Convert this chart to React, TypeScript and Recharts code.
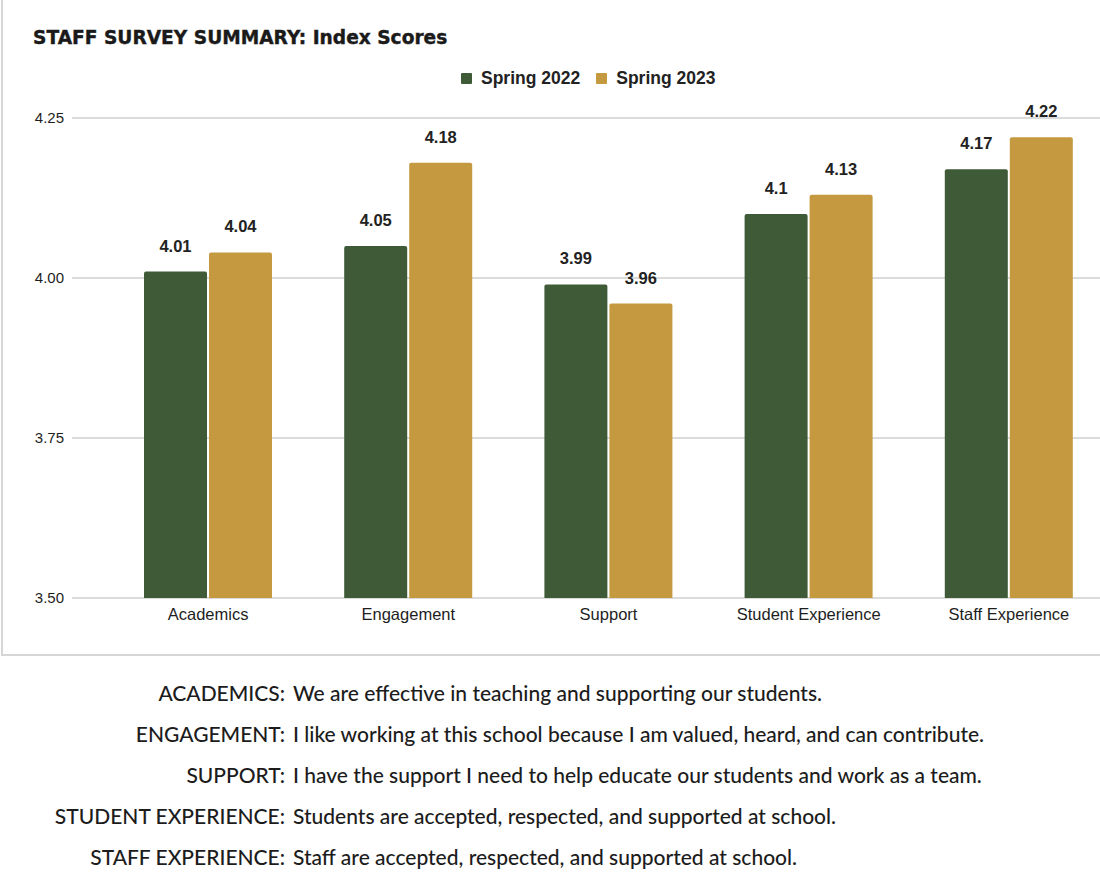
import React from 'react';
import { BarChart, Bar, XAxis, YAxis, CartesianGrid, LabelList } from 'recharts';

const categories = ['Academics', 'Engagement', 'Support', 'Student Experience', 'Staff Experience'];
const spring2022 = [4.01, 4.05, 3.99, 4.1, 4.17];
const spring2023 = [4.04, 4.18, 3.96, 4.13, 4.22];
const yTicks = [3.5, 3.75, 4.0, 4.25];
const seriesNames = ['Spring 2022', 'Spring 2023'];
const descLabels = ['ACADEMICS:', 'ENGAGEMENT:', 'SUPPORT:', 'STUDENT EXPERIENCE:', 'STAFF EXPERIENCE:'];
const descTexts = [
  'We are effective in teaching and supporting our students.',
  'I like working at this school because I am valued, heard, and can contribute.',
  'I have the support I need to help educate our students and work as a team.',
  'Students are accepted, respected, and supported at school.',
  'Staff are accepted, respected, and supported at school.',
];

const GREEN = '#3e5a37';
const GOLD = '#c4993f';
const colors = [GREEN, GOLD];

const data = categories.map((c, i) => ({ name: c, s2022: spring2022[i], s2023: spring2023[i] }));

export default function App() {
  return (
    <div style={{ position: 'absolute', left: 0, top: 0, width: 1100, height: 882, overflow: 'hidden', background: '#fff' }}>
      <div style={{ position: 'absolute', left: 1, top: -3, width: 1200, height: 659, border: '2px solid #d6d6d6', boxSizing: 'border-box' }} />
      <div style={{ position: 'absolute', left: 33, top: 26, fontFamily: '"DejaVu Sans", sans-serif', fontWeight: 700, fontSize: 18.6, color: '#1a1a1a', whiteSpace: 'nowrap', lineHeight: '24px', WebkitTextStroke: '0.4px #1a1a1a' }}>
        STAFF SURVEY SUMMARY: Index Scores
      </div>
      <div style={{ position: 'absolute', left: 461, top: 67, display: 'flex', alignItems: 'center', fontFamily: '"Liberation Sans", Arial, sans-serif', fontWeight: 700, fontSize: 17.5, color: '#222', whiteSpace: 'nowrap', lineHeight: '22px' }}>
        {seriesNames.map((n, i) => (
          <div key={n} style={{ display: 'flex', alignItems: 'center', marginRight: 16 }}>
            <div style={{ width: 11, height: 11, background: colors[i], borderRadius: 1, marginRight: 9 }} />
            <span>{n}</span>
          </div>
        ))}
      </div>
      <div style={{ position: 'absolute', left: 0, top: 0 }}>
        <BarChart width={1112} height={655} data={data} margin={{ top: 118, right: 3, bottom: 17, left: 0 }} barSize={63} barGap={2}>
          <CartesianGrid vertical={false} stroke="#cfcfcf" strokeWidth={1.5} />
          <XAxis
            dataKey="name"
            axisLine={false}
            tickLine={false}
            height={40}
            tickMargin={4}
            padding={{ left: 36, right: 0 }}
            tick={{ fontFamily: '"Liberation Sans", Arial, sans-serif', fontSize: 16.5, fill: '#1e1e1e' }}
            interval={0}
          />
          <YAxis
            domain={[3.5, 4.25]}
            ticks={yTicks}
            width={72}
            axisLine={false}
            tickLine={false}
            tickMargin={2}
            tickFormatter={(v: number) => v.toFixed(2)}
            tick={{ fontFamily: '"Liberation Sans", Arial, sans-serif', fontSize: 15, fill: '#1e1e1e' }}
          />
          <Bar dataKey="s2022" name={seriesNames[0]} fill={GREEN} radius={[2, 2, 0, 0]} isAnimationActive={false}>
            <LabelList dataKey="s2022" position="top" offset={20} style={{ fontFamily: '"Liberation Sans", Arial, sans-serif', fontSize: 16.5, fontWeight: 700, fill: '#222' }} />
          </Bar>
          <Bar dataKey="s2023" name={seriesNames[1]} fill={GOLD} radius={[2, 2, 0, 0]} isAnimationActive={false}>
            <LabelList dataKey="s2023" position="top" offset={20} style={{ fontFamily: '"Liberation Sans", Arial, sans-serif', fontSize: 16.5, fontWeight: 700, fill: '#222' }} />
          </Bar>
        </BarChart>
      </div>
      {descLabels.map((l, i) => (
        <div key={l} style={{ position: 'absolute', left: 0, top: 672 + i * 41, height: 41, width: 1100, fontFamily: 'Lato, sans-serif', fontWeight: 500, fontSize: 21, color: '#1c1c1c', lineHeight: '41px', whiteSpace: 'nowrap' }}>
          <span style={{ position: 'absolute', right: 1100 - 285, textAlign: 'right' }}>{l}</span>
          <span style={{ position: 'absolute', left: 293 }}>{descTexts[i]}</span>
        </div>
      ))}
    </div>
  );
}
